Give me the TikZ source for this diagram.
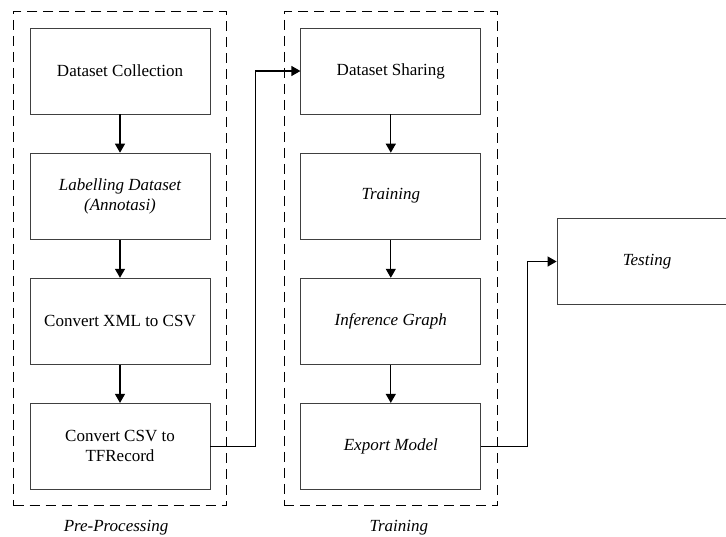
\documentclass[tikz,border=0pt]{standalone}
\usepackage{fontspec}
\setmainfont{Liberation Serif}
\usetikzlibrary{arrows.meta,positioning,fit}
\tikzset{
  stepbox/.style={draw=black!75, line width=0.8pt, align=center,
    minimum width=180pt, minimum height=86pt, inner sep=3pt,
    font=\fontsize{17}{20}\selectfont},
  flowarr/.style={-{Triangle[length=9pt, width=10pt]}, line width=1.2pt},
  groupbox/.style={draw, dash pattern=on 10pt off 6pt, line width=0.8pt, inner sep=16pt},
  grouplabel/.style={font=\fontsize{17}{20}\selectfont\itshape, inner sep=2pt},
}
\begin{document}
\begin{tikzpicture}
  \useasboundingbox (0,0) rectangle (726pt,-536pt);
  \clip (0,0) rectangle (726pt,-536pt);
  % pre-processing column
  \node[stepbox] (dc) at (120pt,-71pt) {Dataset Collection};
  \node[stepbox, below=38.3pt of dc] (lb) {\itshape Labelling Dataset\\\itshape (Annotasi)};
  \node[stepbox, below=38.3pt of lb] (xc) {Convert XML to CSV};
  \node[stepbox, below=38.3pt of xc] (tf) {Convert CSV to\\TFRecord};
  % training column
  \node[stepbox, right=90pt of dc] (ds) {Dataset Sharing};
  \node[stepbox, below=38.3pt of ds] (tr) {\itshape Training};
  \node[stepbox, below=38.3pt of tr] (ig) {\itshape Inference Graph};
  \node[stepbox, below=38.3pt of ig] (em) {\itshape Export Model};
  % testing
  \node[stepbox] (ts) at (647pt,-261.5pt) {\itshape Testing};
  % groups
  \node[groupbox, fit=(dc)(tf)] (pre) {};
  \node[groupbox, fit=(ds)(em)] (trn) {};
  \node[grouplabel, below=12pt of pre, xshift=-4pt] (prel) {Pre-Processing};
  \node[grouplabel, below=12pt of trn, xshift=8pt] (trnl) {Training};
  % arrows
  \draw[flowarr] (dc) -- (lb);
  \draw[flowarr] (lb) -- (xc);
  \draw[flowarr] (xc) -- (tf);
  \draw[flowarr] (ds) -- (tr);
  \draw[flowarr] (tr) -- (ig);
  \draw[flowarr] (ig) -- (em);
  \draw[flowarr] (tf.east) -- ++(45pt,0) |- (ds.west);
  \draw[flowarr] (em.east) -- ++(46pt,0) |- (ts.west);
\end{tikzpicture}
\end{document}
